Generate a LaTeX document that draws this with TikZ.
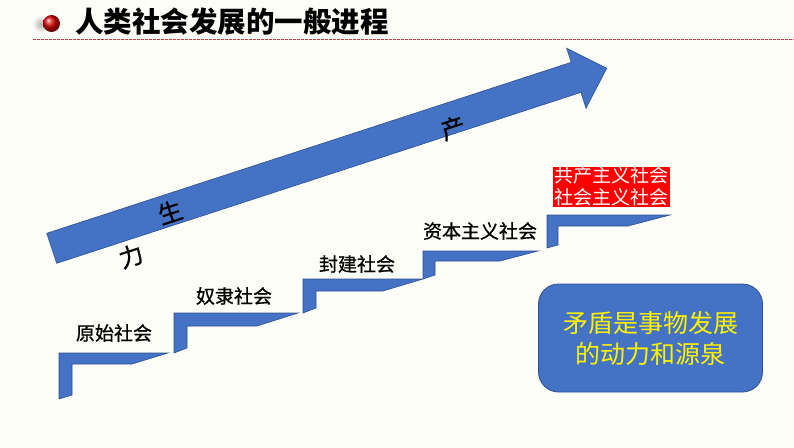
\documentclass[tikz,border=0pt]{standalone}
\usepackage{fontspec}
\usepackage{tikz}
\setmainfont{Liberation Sans}
\newfontfamily\cjk{Noto Sans CJK SC}
\newfontfamily\cjkm{Noto Sans CJK SC}[FakeBold=0.8]
\definecolor{paper}{RGB}{254,254,249}
\definecolor{stepblue}{RGB}{68,114,196}
\definecolor{edgeblue}{RGB}{47,82,143}
\definecolor{linered}{RGB}{200,60,60}
\tikzset{stage/.style={font=\cjkm\fontsize{19}{22}\selectfont,text=black,inner sep=0pt}}

\begin{document}
\begin{tikzpicture}[x=1pt,y=-1pt,line join=miter]
  \tikzstyle{band}=[fill=stepblue,draw=edgeblue,line width=0.6pt]
  \tikzstyle{force}=[font=\cjkm\fontsize{24}{24}\selectfont,text=black,rotate=18,inner sep=0pt]

  \fill[paper] (0,0) rectangle (794,447);
  \useasboundingbox (0,0) rectangle (794,447);

  % heading
  \shade[inner color=gray!60,outer color=paper] (41,24) ellipse (9 and 9);
  \shade[ball color=red!85!black] (51.5,23.5) circle (8.5);
  \node[anchor=west,font=\cjk\bfseries\fontsize{28.5}{30}\selectfont,inner sep=0pt] (title) at (75,22) {人类社会发展的一般进程};
  \coordinate (rule0) at (33,39.5);
  \coordinate (rule1) at (794,39.5);
  \draw[linered,dash pattern=on 2.5pt off 1.5pt,line width=0.8pt] (rule0) -- (rule1);

  % productive force arrow
  \filldraw[band] (46.7,233.3) -- (571.2,62.3) -- (566.7,48.3) -- (606.7,68.3)
                  -- (586,108.3) -- (580.9,92.4) -- (56.7,263.3) -- cycle;
  \node[force] (li)    at (131,256) {力};
  \node[force] (sheng) at (170,212) {生};
  \node[force] (chan)  at (453,128) {产};

  % stairs
  \filldraw[band] (59,399) -- (59,353) -- (168,353) -- (132,364) -- (72,364) -- (72,395) -- cycle;
  \filldraw[band] (174,353) -- (174,313) -- (298,313) -- (257,326) -- (187,326) -- (187,348) -- cycle;
  \filldraw[band] (303,313) -- (303,279) -- (423,279) -- (383,291) -- (316,291) -- (316,308) -- cycle;
  \filldraw[band] (423,279) -- (423,251) -- (538,251) -- (500,261) -- (435,261) -- (435,275) -- cycle;
  \filldraw[band] (547,248) -- (547,215) -- (670,215) -- (628,226) -- (558,226) -- (558,245) -- cycle;

  \node[stage] (yuanshi)  at (114,333) {原始社会};
  \node[stage] (nuli)     at (234,296) {奴隶社会};
  \node[stage] (fengjian) at (357,264) {封建社会};
  \node[stage] (ziben)    at (480,231) {资本主义社会};
  \node[stage,font=\cjk\fontsize{19}{22}\selectfont,fill=red,text=white,align=center,minimum width=117,minimum height=40]
        (gongchan) at (611.5,186.7) {共产主义社会\\社会主义社会};

  % note box
  \node[rounded corners=20,fill=stepblue,draw=edgeblue,line width=0.8pt,
        minimum width=224,minimum height=108,text=yellow,align=center,
        font=\cjk\fontsize{25}{31}\selectfont] (maodun) at (650.5,338)
        {矛盾是事物发展\\的动力和源泉};
\end{tikzpicture}
\end{document}
